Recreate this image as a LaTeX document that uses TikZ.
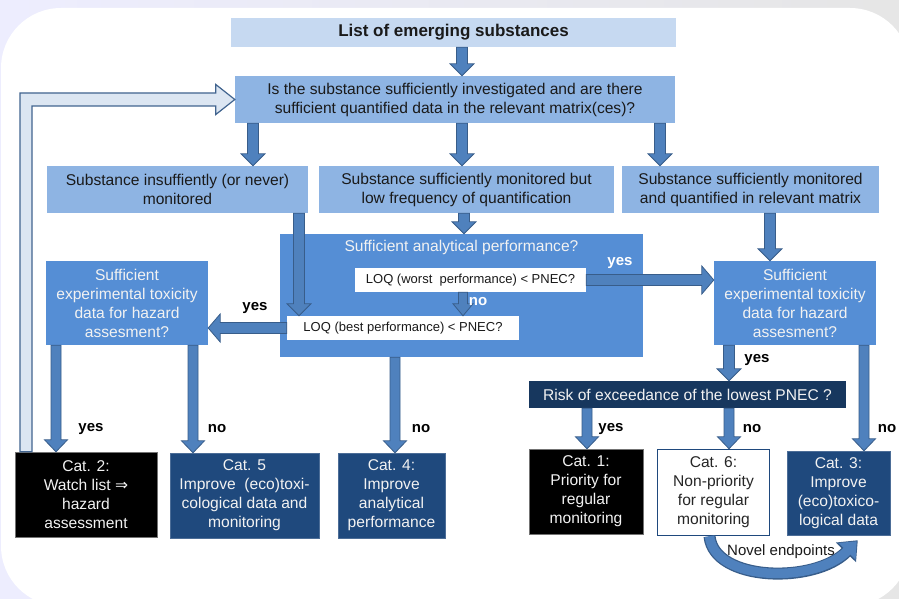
\documentclass[tikz,border=0pt]{standalone}
\usepackage{fontspec}
\setmainfont{Liberation Sans}
\newfontfamily\djv{DejaVu Sans}
\usetikzlibrary{calc,arrows.meta}
\definecolor{bglight}{HTML}{C6D9F1}
\definecolor{bgmid}{HTML}{8EB4E3}
\definecolor{bgblue}{HTML}{558ED5}
\definecolor{navy}{HTML}{17375E}
\definecolor{dkblue}{HTML}{1F497D}
\definecolor{arrfill}{HTML}{4F81BD}
\definecolor{arrdraw}{HTML}{385D8A}
\definecolor{lighttext}{HTML}{F2F2F2}
\definecolor{fbfill}{HTML}{DCE6F2}
\definecolor{fbdraw}{HTML}{41648F}
\definecolor{darktext}{HTML}{1A1A1A}
\def\bsw{5.5pt}\def\bhw{12pt}\def\bhl{12pt}
\newcommand{\barrow}[3][]{%
  \coordinate (ba-c) at ($(#3)!\bhl!(#2)$);
  \draw[arrowst,#1] ($(#2)!\bsw!90:(#3)$) -- ($(ba-c)!\bsw!-90:(#2)$) -- ($(ba-c)!\bhw!-90:(#2)$) -- (#3) -- ($(ba-c)!\bhw!90:(#2)$) -- ($(ba-c)!\bsw!90:(#2)$) -- ($(#2)!\bsw!-90:(#3)$) -- cycle;}
\tikzset{
  bx/.style={inner sep=1pt, align=center, font=\fontsize{15.6}{19}\selectfont, text=darktext},
  ltbx/.style={bx, fill=bgmid},
  mdbx/.style={bx, fill=bgblue, text=lighttext},
  catbx/.style={bx, text=lighttext},
  lbl/.style={font=\bfseries\fontsize{15}{17}\selectfont, text=black, inner sep=0pt},
  wlbl/.style={lbl, text=white},
  arrowst/.style={fill=arrfill, draw=arrdraw, line width=0.8pt, line join=miter},
  fbst/.style={fill=fbfill, draw=fbdraw, line width=1.2pt, line join=miter},
}
\begin{document}
\begin{tikzpicture}[x=1pt,y=-1pt]
\useasboundingbox (0,0) rectangle (899,599);
\clip (0,0) rectangle (899,599);
% background
\shade[left color=black!4!blue!7!white, right color=black!10] (0,0) rectangle (899,599);
\fill[white, rounded corners=60pt] (1,8) rectangle (910,606);

% boxes
\node[bx, fill=bglight, minimum width=445pt, minimum height=29pt, font=\bfseries\fontsize{17}{20}\selectfont] (list) at (453.5,32.5) {List of emerging substances};
\node[ltbx, minimum width=440pt, minimum height=47pt] (q) at (455,99.5) {Is the substance sufficiently investigated and are there\\sufficient quantified data in the relevant matrix(ces)?};
\node[ltbx, minimum width=261pt, minimum height=47pt] (b1) at (177.5,189.5) {Substance insuffiently (or never)\\monitored};
\node[ltbx, minimum width=295pt, minimum height=47pt] (b2) at (466.5,189.5) {Substance sufficiently monitored but\\low frequency of quantification};
\node[ltbx, minimum width=257pt, minimum height=47pt] (b3) at (750.5,189.5) {Substance sufficiently monitored\\and quantified in relevant matrix};

\node[mdbx, minimum width=363pt, minimum height=123pt] (ana) at (461.5,295.5) {};
\node[bx, text=lighttext] (anat) at (461.5,247) {Sufficient analytical performance?};
\node[bx, fill=white, minimum width=231pt, minimum height=24pt, font=\fontsize{13}{15}\selectfont] (worst) at (470.5,280) {LOQ (worst~ performance) < PNEC?};
\node[bx, fill=white, minimum width=232pt, minimum height=24pt, font=\fontsize{13}{15}\selectfont] (best) at (403,328) {LOQ (best performance) < PNEC?};

\node[mdbx, minimum width=162pt, minimum height=84pt] (toxL) at (127,303) {Sufficient\\experimental toxicity\\data for hazard\\assesment?};
\node[mdbx, minimum width=162pt, minimum height=84pt] (toxR) at (795,303) {Sufficient\\experimental toxicity\\data for hazard\\assesment?};
\node[bx, fill=navy, text=lighttext, minimum width=317pt, minimum height=27pt] (risk) at (687.5,394.5) {Risk of exceedance of the lowest PNEC ?};

\node[catbx, fill=black, draw=black!55, minimum width=142pt, minimum height=85pt] (c2) at (86,494.5) {Cat. 2:\\Watch list {\djv ⇒}\\hazard\\assessment};
\node[catbx, fill=dkblue, draw=dkblue!80!white, minimum width=149pt, minimum height=85pt] (c5) at (244.5,495.5) {Cat. 5\\Improve~ (eco)toxi-\\cological data and\\monitoring};
\node[catbx, fill=dkblue, draw=dkblue!80!white, minimum width=107pt, minimum height=85pt] (c4) at (391.5,495.5) {Cat. 4:\\Improve\\analytical\\performance};
\node[catbx, fill=black, draw=black!55, minimum width=114pt, minimum height=85pt] (c1) at (586,491.5) {Cat. 1:\\Priority for\\regular\\monitoring};
\node[bx, fill=white, draw=dkblue, line width=1.5pt, text=black!85, minimum width=112pt, minimum height=86pt] (c6) at (713.5,492.5) {Cat. 6:\\Non-priority\\for regular\\monitoring};
\node[catbx, fill=dkblue, draw=dkblue!80!white, minimum width=103pt, minimum height=84pt] (c3) at (838.5,493) {Cat. 3:\\Improve\\(eco)toxico-\\logical data};

% x positions of arrows
\coordinate (xa) at (462,0);
\coordinate (xq1) at (253,0);
\coordinate (xq3) at (660,0);
\coordinate (xb2) at (464,0);
\coordinate (xb1) at (299,0);
\coordinate (xno) at (463,0);
\coordinate (xb3) at (770,0);
\coordinate (xry) at (729,0);
\coordinate (xc2) at (56,0);
\coordinate (xc5) at (193,0);
\coordinate (xc4) at (395,0);
\coordinate (xc1) at (587,0);
\coordinate (xc3) at (864,0);

% arrows
\barrow{list.south -| xa}{q.north -| xa}
\barrow{q.south -| xq1}{b1.north -| xq1}
\barrow{q.south -| xa}{b2.north -| xa}
\barrow{q.south -| xq3}{b3.north -| xq3}
\barrow{b2.south -| xb2}{ana.north -| xb2}
\barrow{b1.south -| xb1}{best.north -| xb1}
\begingroup\def\bsw{4.5pt}\def\bhw{10pt}
\barrow{worst.south -| xno}{best.north -| xno}
\endgroup
\begingroup\def\bhw{14pt}
\barrow{worst.east}{worst.east -| toxR.west}
\barrow{best.west}{best.west -| toxL.east}
\endgroup
\barrow{b3.south -| xb3}{toxR.north -| xb3}
\barrow{toxR.south -| xry}{risk.north -| xry}
\begingroup\def\bsw{5pt}\def\bhw{11.5pt}
\barrow{toxL.south -| xc2}{c2.north -| xc2}
\barrow{toxL.south -| xc5}{c5.north -| xc5}
\barrow{ana.south -| xc4}{c4.north -| xc4}
\barrow{risk.south -| xc1}{c1.north -| xc1}
\barrow{risk.south -| xry}{c6.north -| xry}
\barrow{toxR.south -| xc3}{c3.north -| xc3}
\endgroup

% feedback arrow
\draw[fbst] let \p1=(c2.north), \p2=(q.west) in
  (20pt,\y1) -- (20pt,\y2+6.5pt) -- (\x2-19pt,\y2+6.5pt) -- (\x2-19pt,\y2+15pt) -- (\x2,\y2)
  -- (\x2-19pt,\y2-15pt) -- (\x2-19pt,\y2-6.5pt) -- (32pt,\y2-6.5pt) -- (32pt,\y1) -- cycle;

% curved arrow
\coordinate (ne1) at ($(c6.south)+(-4,0)$);
\coordinate (ne2) at ($(c3.south west)+(71,5)$);
\draw[arrdraw, line width=12pt, -{Triangle[width=27pt,length=17pt]}] (ne1) .. controls (714,582) and (815,584) .. (ne2);
\draw[arrfill, line width=9.5pt, -{Triangle[width=23pt,length=14pt]}, shorten >=1.5pt] (ne1) .. controls (714,582) and (815,584) .. (ne2);
\node[bx, font=\fontsize{15}{17}\selectfont] (nov) at (781,552) {Novel endpoints};

% labels
\node[lbl] (l1) at (255,308) {yes};
\node[wlbl] (l2) at (620,263) {yes};
\node[wlbl] (l3) at (478,302) {no};
\node[lbl] (l4) at (757,360) {yes};
\node[lbl] (l5) at (91,429) {yes};
\node[lbl] (l6) at (217,429) {no};
\node[lbl] (l7) at (421,429) {no};
\node[lbl] (l8) at (611,429) {yes};
\node[lbl] (l9) at (752,429) {no};
\node[lbl] (l10) at (887,429) {no};
\end{tikzpicture}
\end{document}
